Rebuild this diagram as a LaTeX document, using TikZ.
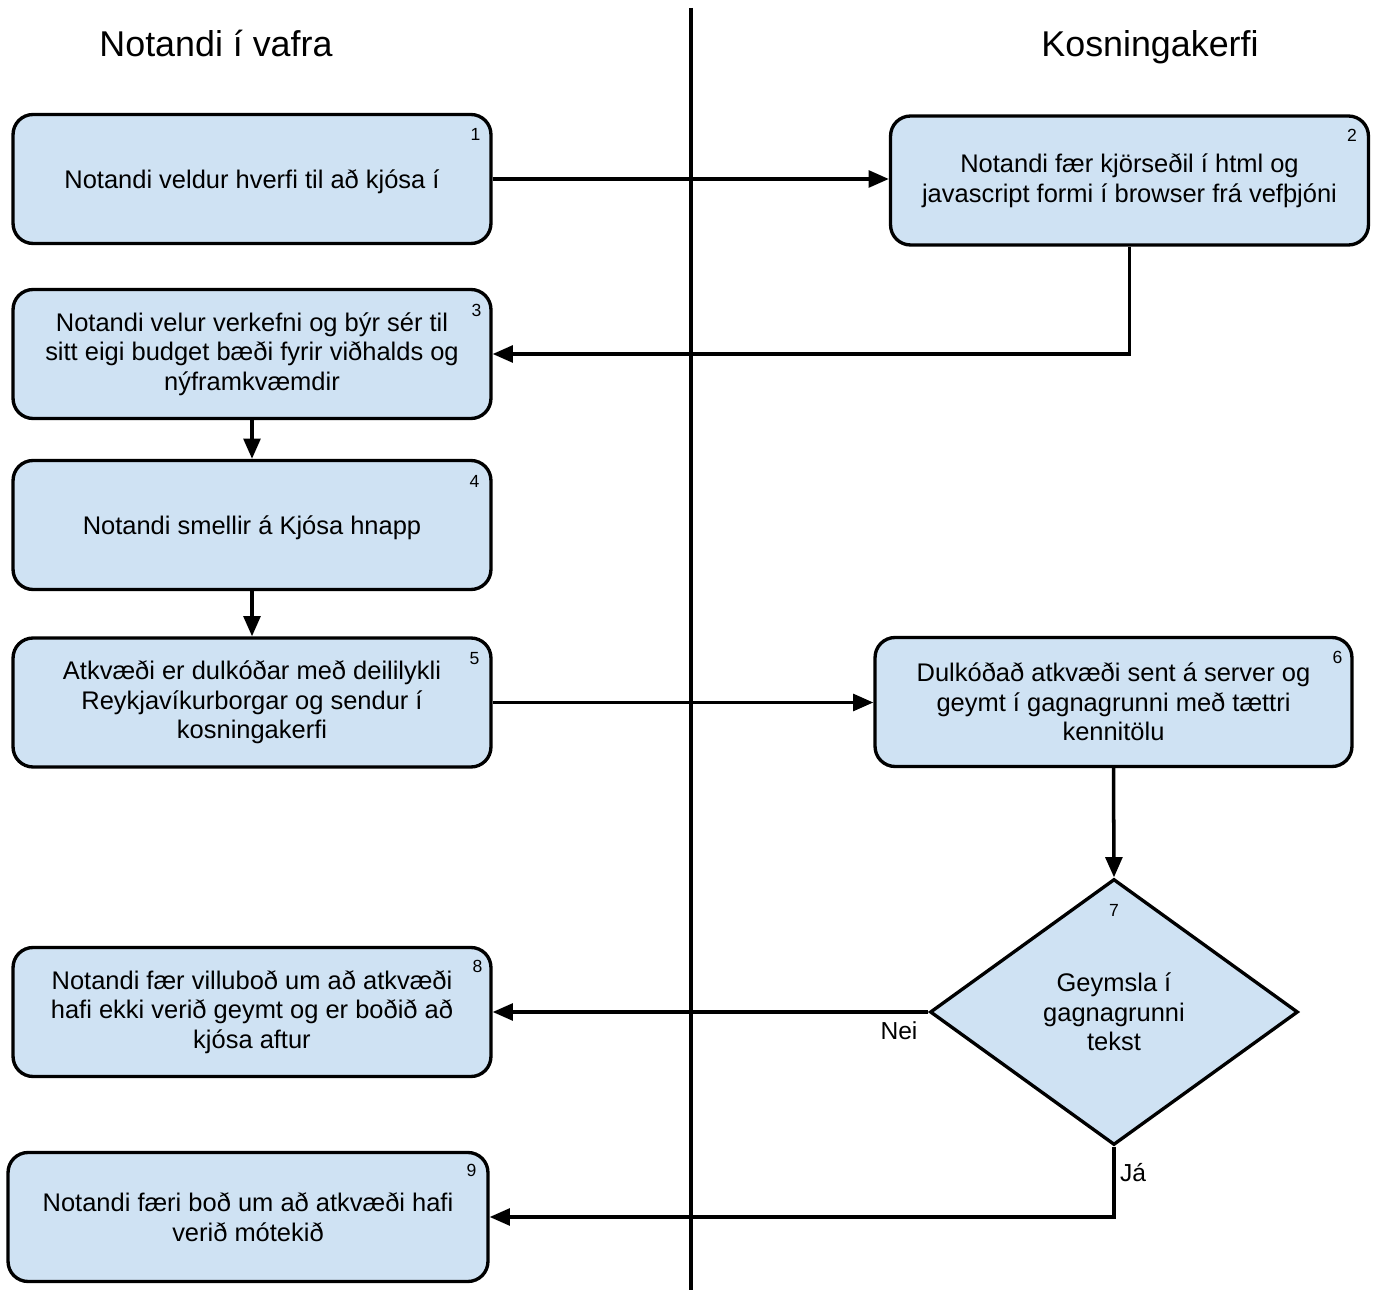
\documentclass[tikz,border=0pt]{standalone}
\usepackage{fontspec}
\setmainfont{Liberation Sans}
\usetikzlibrary{arrows.meta,shapes.geometric}
\definecolor{boxfill}{RGB}{207,226,243}
\begin{document}
\begin{tikzpicture}[x=0.02cm,y=-0.02cm,
  stepbox/.style={draw, line width=1.9pt, fill=boxfill, rounded corners=0.4cm,
    align=center, inner sep=0pt, font=\fontsize{14.5}{16.8}\selectfont,
    minimum width=9.56cm, minimum height=2.58cm,
    execute at begin node={\rule{0pt}{14pt}}},
  decision/.style={draw, line width=1.9pt, fill=boxfill, shape=diamond,
    align=center, inner sep=0pt, font=\fontsize{14.5}{16.8}\selectfont,
    minimum width=7.36cm, minimum height=5.32cm},
  num/.style={font=\fontsize{10}{12}\selectfont, inner sep=0pt},
  edgelabel/.style={font=\fontsize{14}{16}\selectfont, inner sep=0pt},
  lanetitle/.style={font=\fontsize{20.4}{24}\selectfont, anchor=base, inner sep=0pt},
  flow/.style={line width=2pt, -{Triangle[length=11.5pt,width=9.5pt]}},
  plain/.style={line width=2.1pt}]

\useasboundingbox (0,0) rectangle (1374,1290);

% swimlane divider and lane titles
\coordinate (divtop) at (691,8);
\coordinate (divbot) at (691,1290);
\draw[plain] (divtop) -- (divbot);
\node[lanetitle] (t1) at (216,57) {Notandi í vafra};
\node[lanetitle] (t2) at (1150,57) {Kosningakerfi};

% process steps
\node[stepbox] (b1) at (252,179) {Notandi veldur hverfi til að kjósa í};
\node[stepbox] (b2) at (1129.5,180.5) {Notandi fær kjörseðil í html og\\javascript formi í browser frá vefþjóni};
\node[stepbox] (b3) at (252,354) {Notandi velur verkefni og býr sér til\\sitt eigi budget bæði fyrir viðhalds og\\nýframkvæmdir};
\node[stepbox] (b4) at (252,525) {Notandi smellir á Kjósa hnapp};
\node[stepbox] (b5) at (252,702.5) {Atkvæði er dulkóðar með deililykli\\Reykjavíkurborgar og sendur í\\kosningakerfi};
\node[stepbox, minimum width=9.54cm] (b6) at (1113.5,702) {Dulkóðað atkvæði sent á server og\\geymt í gagnagrunni með tættri\\kennitölu};
\node[decision] (d7) at (1114,1012) {Geymsla í\\gagnagrunni\\tekst};
\node[stepbox] (b8) at (252,1012) {Notandi fær villuboð um að atkvæði\\hafi ekki verið geymt og er boðið að\\kjósa aftur};
\node[stepbox, minimum width=9.6cm] (b9) at (248,1217) {Notandi færi boð um að atkvæði hafi\\verið mótekið};

% step numbers
\node[num] (n1) at ([shift={(-17,22)}]b1.north east) {1};
\node[num] (n2) at ([shift={(-18,21)}]b2.north east) {2};
\node[num] (n3) at ([shift={(-16,23)}]b3.north east) {3};
\node[num] (n4) at ([shift={(-18,23)}]b4.north east) {4};
\node[num] (n5) at ([shift={(-18,22)}]b5.north east) {5};
\node[num] (n6) at ([shift={(-16,22)}]b6.north east) {6};
\node[num] (n7) at ([shift={(0,33)}]d7.north) {7};
\node[num] (n8) at ([shift={(-15,21)}]b8.north east) {8};
\node[num] (n9) at ([shift={(-18,20)}]b9.north east) {9};

% connectors
\draw[flow] (b1.east) -- (b1.east -| b2.west);
\draw[flow] (b2.south) |- (b3.east);
\draw[flow] (b3.south) -- (b4.north);
\draw[flow] (b4.south) -- (b5.north);
\draw[flow] (b5.east) -- (b5.east -| b6.west);
\draw[flow] (b6.south) -- (d7.north);
\draw[flow] (d7.west) -- (d7.west -| b8.east);
\draw[flow] (d7.south) |- (b9.east);

% decision outcomes
\node[edgelabel] (nei) at (899,1031) {Nei};
\node[edgelabel] (ja) at (1133,1173) {Já};
\end{tikzpicture}
\end{document}
